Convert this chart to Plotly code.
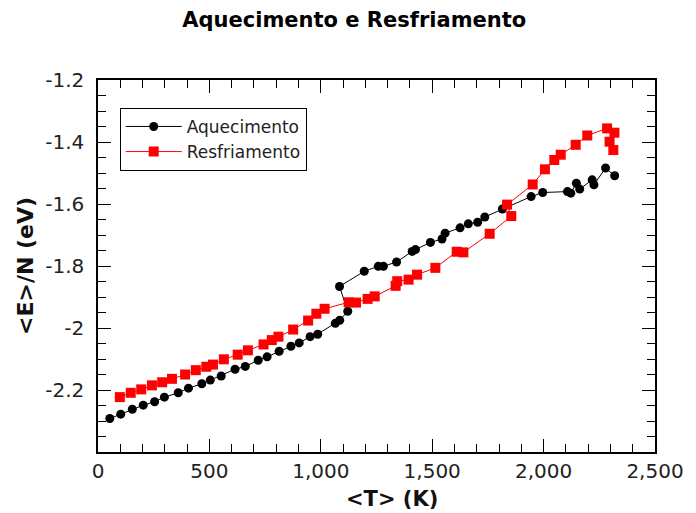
import plotly.graph_objects as go

# Heating run: mean temperature (K) and energy per atom (eV)
heat_T = [53, 102, 154, 203, 254, 298, 360, 406, 466, 504, 553, 615, 661, 719, 759,
          813, 866, 903, 952, 986, 1065, 1085, 1121, 1084, 1195, 1258, 1281, 1340,
          1410, 1425, 1492, 1544, 1558, 1625, 1662, 1704, 1736, 1815, 1944, 1996,
          2107, 2122, 2147, 2162, 2218, 2226, 2278, 2319]
heat_E = [-2.292, -2.278, -2.262, -2.249, -2.238, -2.223, -2.209, -2.194, -2.180,
          -2.168, -2.155, -2.133, -2.124, -2.104, -2.093, -2.075, -2.059, -2.048,
          -2.028, -2.020, -1.985, -1.975, -1.946, -1.866, -1.817, -1.801, -1.801,
          -1.787, -1.753, -1.747, -1.724, -1.713, -1.694, -1.677, -1.664, -1.659,
          -1.642, -1.616, -1.576, -1.563, -1.560, -1.565, -1.533, -1.552, -1.522,
          -1.538, -1.484, -1.509]

# Cooling run
cool_T = [2313, 2296, 2318, 2285, 2196, 2144, 2077, 2048, 2006, 1951, 1836, 1855,
          1758, 1640, 1610, 1514, 1432, 1394, 1343, 1336, 1242, 1210, 1158, 1125,
          1017, 980, 943, 876, 810, 780, 743, 673, 627, 565, 516, 486, 439, 391,
          332, 288, 242, 194, 147, 98]
cool_E = [-1.426, -1.399, -1.370, -1.356, -1.379, -1.409, -1.441, -1.458, -1.488,
          -1.537, -1.602, -1.639, -1.696, -1.756, -1.754, -1.806, -1.828, -1.844,
          -1.849, -1.864, -1.898, -1.906, -1.918, -1.917, -1.938, -1.954, -1.976,
          -2.005, -2.028, -2.039, -2.053, -2.072, -2.086, -2.101, -2.118, -2.125,
          -2.136, -2.150, -2.164, -2.175, -2.185, -2.198, -2.209, -2.223]

x_ticks = [0, 500, 1000, 1500, 2000, 2500]
x_tick_labels = ["0", "500", "1,000", "1,500", "2,000", "2,500"]
y_ticks = [-2.2, -2.0, -1.8, -1.6, -1.4, -1.2]
y_tick_labels = ["-2.2", "-2", "-1.8", "-1.6", "-1.4", "-1.2"]

FONT = "DejaVu Sans"

fig = go.Figure()
fig.add_trace(go.Scatter(
    x=heat_T, y=heat_E, name="Aquecimento", mode="lines+markers",
    line=dict(color="black", width=1),
    marker=dict(symbol="circle", size=9, color="black"),
))
fig.add_trace(go.Scatter(
    x=cool_T, y=cool_E, name="Resfriamento", mode="lines+markers",
    line=dict(color="#ff0000", width=1),
    marker=dict(symbol="square", size=10, color="#ff0000"),
))

axis_common = dict(
    showgrid=False, zeroline=False, showline=True, linecolor="black", linewidth=1.5,
    mirror="allticks", ticks="inside", ticklen=13, tickwidth=1.2, tickcolor="black",
    tickfont=dict(family=FONT, size=20, color="#222"),
)

fig.update_xaxes(
    range=[0, 2500], tickvals=x_ticks, ticktext=x_tick_labels,
    minor=dict(ticks="inside", ticklen=8, dtick=100, tickcolor="black", tickwidth=1.2),
    **axis_common,
)
fig.update_yaxes(
    range=[-2.4, -1.2], tickvals=y_ticks, ticktext=y_tick_labels,
    minor=dict(ticks="inside", ticklen=8, dtick=0.05, tickcolor="black", tickwidth=1.2),
    title=dict(text="<b>&lt;E&gt;/N (eV)</b>", font=dict(family=FONT, size=22, color="#111"),
               standoff=6),
    ticklabelstandoff=8,
    **axis_common,
)

# x-axis title placed as an annotation below the tick labels
fig.add_annotation(
    text="<b>&lt;T&gt; (K)</b>", xref="paper", yref="paper", x=0.527, y=-0.125,
    xanchor="center", yanchor="middle", showarrow=False,
    font=dict(family=FONT, size=21, color="#111"),
)

fig.update_layout(
    width=696, height=513,
    margin=dict(l=98, r=36, t=80, b=61),
    paper_bgcolor="white", plot_bgcolor="white",
    title=dict(text="<b>Aquecimento e Resfriamento</b>", xref="container", x=0.509,
               xanchor="center", yref="container", y=0.961, yanchor="middle",
               font=dict(family=FONT, size=21, color="black")),
    legend=dict(x=0.039, y=0.925, xanchor="left", yanchor="top",
                bordercolor="black", borderwidth=1, bgcolor="white",
                font=dict(family=FONT, size=17, color="#222"),
                itemwidth=56, tracegroupgap=0),
    showlegend=True,
)

fig.write_html("out.html")
